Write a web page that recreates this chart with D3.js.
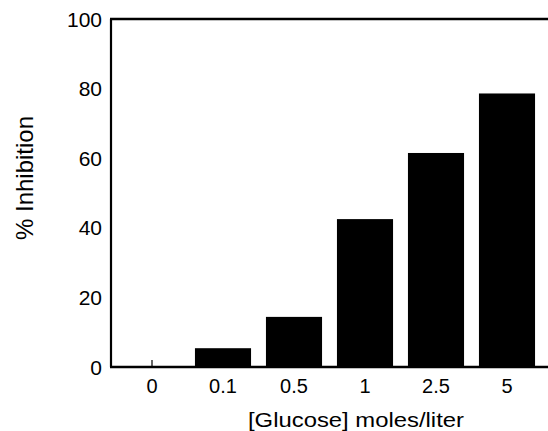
<!DOCTYPE html>
<html>
<head>
<meta charset="utf-8">
<script src="https://cdn.jsdelivr.net/npm/d3@7"></script>
<style>
  body { margin: 0; background: #fff; }
  svg text { font-family: "Liberation Sans", Arial, sans-serif; fill: #000; }
</style>
</head>
<body>
<div id="chart"></div>
<script>
  // glucose concentrations (moles/liter) and % inhibition
  var concentrations = ['0', '0.1', '0.5', '1', '2.5', '5'];
  var inhibition = [0, 5.4, 14.4, 42.5, 61.5, 78.6];
  var yTicks = [0, 20, 40, 60, 80, 100];

  var width = 548;
  var height = 431;

  var data = concentrations.map(function(c, i) {
    return { conc: c, value: inhibition[i] };
  });

  var svg = d3.select('#chart')
    .append('svg')
    .attr('width', width)
    .attr('height', height);

  var x = d3.scaleBand()
    .domain(concentrations)
    .range([116.5, 542.5])
    .paddingInner(0.21)
    .paddingOuter(0.105);

  var y = d3.scaleLinear()
    .domain([0, 100])
    .range([367, 19]);

  // small inward ticks on the x axis (only the one at 0 shows)
  svg.selectAll('.xtick')
    .data(concentrations)
    .enter()
    .append('line')
    .attr('class', 'xtick')
    .attr('x1', function(d) { return x(d) + x.bandwidth() / 2; })
    .attr('x2', function(d) { return x(d) + x.bandwidth() / 2; })
    .attr('y1', y(0))
    .attr('y2', y(0) - 7)
    .attr('stroke', '#000')
    .attr('stroke-width', 1.2);

  svg.selectAll('.bar')
    .data(data)
    .enter()
    .append('rect')
    .attr('class', 'bar')
    .attr('x', function(d) { return x(d.conc); })
    .attr('width', x.bandwidth())
    .attr('y', function(d) { return y(d.value); })
    .attr('height', function(d) { return y(0) - y(d.value); })
    .attr('fill', '#000');

  // frame: left axis, top line, bottom axis
  svg.append('line')
    .attr('x1', 111).attr('x2', 111)
    .attr('y1', y(100)).attr('y2', y(0))
    .attr('stroke', '#000').attr('stroke-width', 2.2);
  svg.append('line')
    .attr('x1', 110).attr('x2', width)
    .attr('y1', y(100)).attr('y2', y(100))
    .attr('stroke', '#000').attr('stroke-width', 2.4);
  svg.append('line')
    .attr('x1', 110).attr('x2', width)
    .attr('y1', y(0)).attr('y2', y(0))
    .attr('stroke', '#000').attr('stroke-width', 2.4);

  // y tick labels
  svg.selectAll('.ylabel')
    .data(yTicks)
    .enter()
    .append('text')
    .attr('class', 'ylabel')
    .attr('x', 102)
    .attr('y', function(d) { return y(d); })
    .attr('dy', '0.36em')
    .attr('text-anchor', 'end')
    .style('font-size', '21px')
    .text(function(d) { return d; });

  // x tick labels
  svg.selectAll('.xlabel')
    .data(concentrations)
    .enter()
    .append('text')
    .attr('class', 'xlabel')
    .attr('x', function(d) { return x(d) + x.bandwidth() / 2; })
    .attr('y', 393)
    .attr('text-anchor', 'middle')
    .style('font-size', '20px')
    .text(function(d) { return d; });

  svg.append('text')
    .attr('x', 356)
    .attr('y', 427)
    .attr('text-anchor', 'middle')
    .attr('textLength', 216)
    .attr('lengthAdjust', 'spacingAndGlyphs')
    .style('font-size', '21px')
    .text('[Glucose] moles/liter');

  svg.append('text')
    .attr('transform', 'translate(33,178) rotate(-90)')
    .attr('text-anchor', 'middle')
    .style('font-size', '24px')
    .text('% Inhibition');
</script>
</body>
</html>
